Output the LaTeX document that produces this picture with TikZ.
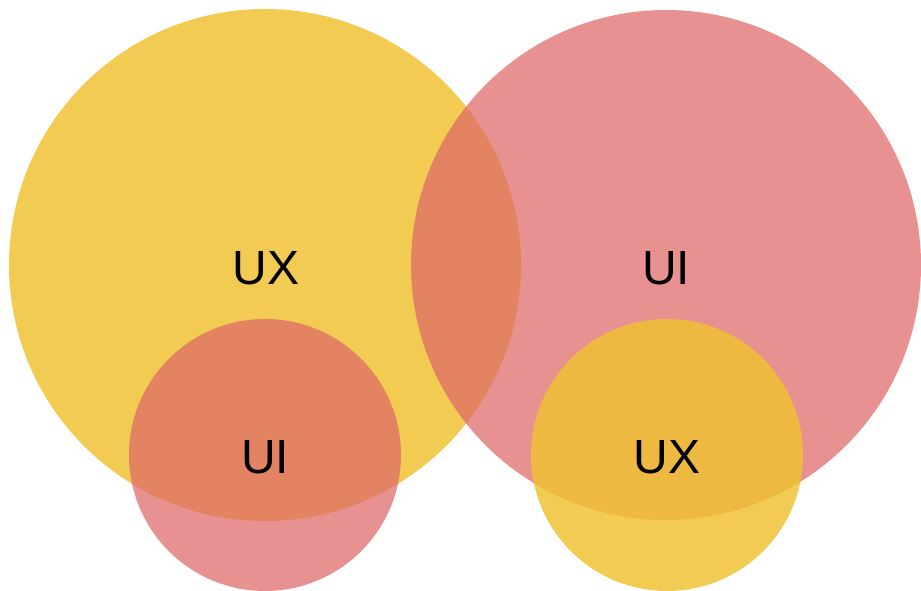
\documentclass[tikz,border=0pt]{standalone}
\usepackage{fontspec}
\setmainfont{Liberation Sans}

\definecolor{uxyellow}{RGB}{240,193,50}
\definecolor{uipink}{RGB}{223,104,104}

\tikzset{
  uxdisc/.style={fill=uxyellow, fill opacity=0.84},
  uidisc/.style={fill=uipink, fill opacity=0.73},
  tag/.style={font=\fontsize{48}{58}\selectfont, text=black, inner sep=0pt}
}

\begin{document}
\begin{tikzpicture}[x=1pt, y=-1pt]

\useasboundingbox (0,0) rectangle (921,591);

%% big discs
\fill[uxdisc] (265,265) circle (256);   %% ux left
\fill[uidisc] (666,265) circle (255);   %% ui right

%% small discs
\fill[uidisc] (265,455) circle (136);   %% ui in ux
\fill[uxdisc] (667,455) circle (136);   %% ux in ui

%% labels
\node[tag] (uxbig) at (266,268) {UX};
\node[tag] (uibig) at (666,268) {UI};
\node[tag] (uismall) at (265,457) {UI};
\node[tag] (uxsmall) at (667,457) {UX};

\end{tikzpicture}
\end{document}
